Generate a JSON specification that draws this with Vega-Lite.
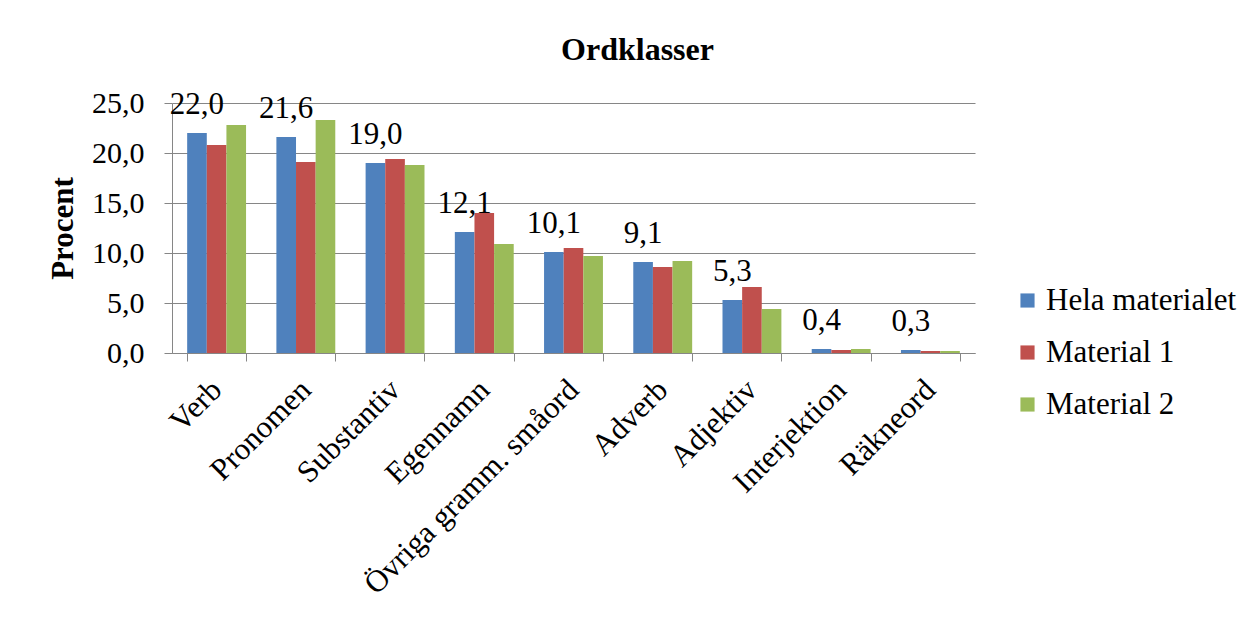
{
  "$schema": "https://vega.github.io/schema/vega-lite/v6.json",
  "autosize": "none",
  "width": 803,
  "height": 250,
  "padding": {"left": 172, "top": 103, "right": 280, "bottom": 267},
  "background": "white",
  "config": {
    "font": "Liberation Serif",
    "locale": {"number": {"decimal": ",", "thousands": " ", "grouping": [3], "currency": ["", " kr"]}},
    "view": {"stroke": null}
  },
  "title": {
    "text": "Ordklasser",
    "font": "Liberation Serif",
    "fontSize": 32,
    "fontWeight": "bold",
    "color": "black",
    "anchor": "middle",
    "dx": 64,
    "baseline": "alphabetic",
    "offset": -4
  },
  "data": {
    "values": [
      {"ordklass": "Verb", "serie": "Hela materialet", "procent": 22.0},
      {"ordklass": "Verb", "serie": "Material 1", "procent": 20.8},
      {"ordklass": "Verb", "serie": "Material 2", "procent": 22.8},
      {"ordklass": "Pronomen", "serie": "Hela materialet", "procent": 21.6},
      {"ordklass": "Pronomen", "serie": "Material 1", "procent": 19.1},
      {"ordklass": "Pronomen", "serie": "Material 2", "procent": 23.3},
      {"ordklass": "Substantiv", "serie": "Hela materialet", "procent": 19.0},
      {"ordklass": "Substantiv", "serie": "Material 1", "procent": 19.4},
      {"ordklass": "Substantiv", "serie": "Material 2", "procent": 18.8},
      {"ordklass": "Egennamn", "serie": "Hela materialet", "procent": 12.1},
      {"ordklass": "Egennamn", "serie": "Material 1", "procent": 14.0},
      {"ordklass": "Egennamn", "serie": "Material 2", "procent": 10.9},
      {"ordklass": "Övriga gramm. småord", "serie": "Hela materialet", "procent": 10.1},
      {"ordklass": "Övriga gramm. småord", "serie": "Material 1", "procent": 10.5},
      {"ordklass": "Övriga gramm. småord", "serie": "Material 2", "procent": 9.7},
      {"ordklass": "Adverb", "serie": "Hela materialet", "procent": 9.1},
      {"ordklass": "Adverb", "serie": "Material 1", "procent": 8.6},
      {"ordklass": "Adverb", "serie": "Material 2", "procent": 9.2},
      {"ordklass": "Adjektiv", "serie": "Hela materialet", "procent": 5.3},
      {"ordklass": "Adjektiv", "serie": "Material 1", "procent": 6.6},
      {"ordklass": "Adjektiv", "serie": "Material 2", "procent": 4.4},
      {"ordklass": "Interjektion", "serie": "Hela materialet", "procent": 0.4},
      {"ordklass": "Interjektion", "serie": "Material 1", "procent": 0.3},
      {"ordklass": "Interjektion", "serie": "Material 2", "procent": 0.4},
      {"ordklass": "Räkneord", "serie": "Hela materialet", "procent": 0.3},
      {"ordklass": "Räkneord", "serie": "Material 1", "procent": 0.2},
      {"ordklass": "Räkneord", "serie": "Material 2", "procent": 0.2}
    ]
  },
  "encoding": {
    "x": {
      "field": "ordklass",
      "type": "nominal",
      "sort": null,
      "scale": {"paddingInner": 0.34, "paddingOuter": 0.17},
      "axis": {
        "title": null,
        "labelAngle": -45,
        "labelAlign": "right",
        "labelBaseline": "middle",
        "labelFont": "Liberation Serif",
        "labelFontSize": 31,
        "labelColor": "black",
        "labelPadding": 24,
        "labelLimit": 400,
        "tickBand": "extent",
        "tickSize": 8,
        "tickColor": "#868686",
        "domainColor": "#868686",
        "grid": false
      }
    },
    "xOffset": {"field": "serie", "type": "nominal", "sort": ["Hela materialet", "Material 1", "Material 2"]},
    "y": {
      "field": "procent",
      "type": "quantitative",
      "scale": {"domain": [0, 25], "nice": false},
      "axis": {
        "title": "Procent",
        "titleFont": "Liberation Serif",
        "titleFontSize": 31,
        "titleFontWeight": "bold",
        "titleColor": "black",
        "titleAngle": -90,
        "titleX": -109,
        "titleY": 125,
        "titleAlign": "center",
        "titleBaseline": "middle",
        "values": [0, 5, 10, 15, 20, 25],
        "format": ".1f",
        "labelFont": "Liberation Serif",
        "labelFontSize": 30,
        "labelColor": "black",
        "labelPadding": 20,
        "tickSize": 8,
        "tickColor": "#868686",
        "domainColor": "#868686",
        "gridColor": "#868686",
        "gridWidth": 1
      }
    }
  },
  "layer": [
    {
      "mark": {"type": "bar"},
      "encoding": {
        "color": {
          "field": "serie",
          "type": "nominal",
          "sort": ["Hela materialet", "Material 1", "Material 2"],
          "scale": {"domain": ["Hela materialet", "Material 1", "Material 2"], "range": ["#4F81BD", "#C0504D", "#9BBB59"]},
          "legend": {
            "title": null,
            "orient": "none",
            "legendX": 840,
            "legendY": 182,
            "symbolType": "square",
            "symbolSize": 200,
            "symbolStrokeWidth": 0,
            "labelFont": "Liberation Serif",
            "labelFontSize": 31,
            "labelColor": "black",
            "labelOffset": 3,
            "labelLimit": 400,
            "rowPadding": 20
          }
        }
      }
    },
    {
      "transform": [{"filter": "datum.serie === 'Hela materialet'"}],
      "mark": {"type": "text", "font": "Liberation Serif", "fontSize": 31, "color": "black", "baseline": "alphabetic", "dy": -19},
      "encoding": {
        "text": {"field": "procent", "type": "quantitative", "format": ".1f"}
      }
    }
  ]
}
